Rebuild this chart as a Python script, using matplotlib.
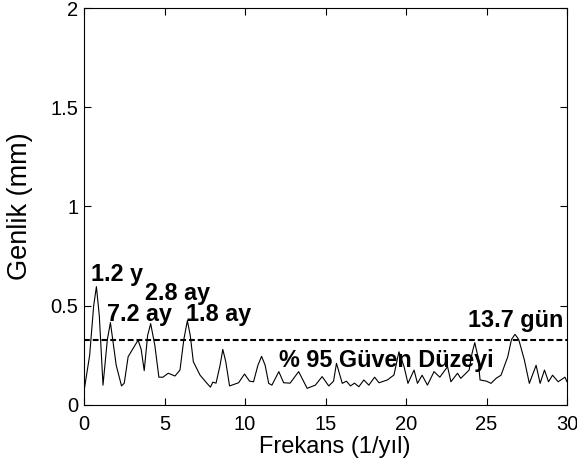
import matplotlib
matplotlib.use("Agg")
import matplotlib.pyplot as plt
import numpy as np

plt.rcParams['font.family'] = ['Liberation Sans', 'DejaVu Sans']

# amplitude spectrum
frek = [0.0, 0.35, 0.6, 0.77, 0.95, 1.18, 1.45, 1.64, 2.0, 2.33, 2.5, 2.74, 3.05, 3.36, 3.55, 3.74,
        3.95, 4.14, 4.4, 4.65, 4.9, 5.23, 5.65, 5.96, 6.2, 6.42, 6.6, 6.79, 7.21, 7.63, 7.85, 8.0,
        8.2, 8.45, 8.62, 8.8, 9.04, 9.6, 9.97, 10.28, 10.53, 10.8, 11.03, 11.25, 11.47, 11.67,
        12.1, 12.4, 12.8, 13.33, 13.86, 14.37, 14.79, 15.2, 15.5, 15.68, 16.04, 16.3, 16.55,
        16.8, 17.07, 17.38, 17.69, 18.05, 18.32, 18.84, 19.25, 19.56, 19.88, 20.12,
        20.5, 20.71, 21.0, 21.33, 21.74, 22.1, 22.37, 22.58, 22.79, 23.2, 23.4,
        23.92, 24.1, 24.27, 24.45, 24.6, 25.0, 25.28, 25.59, 25.9, 26.32, 26.55, 26.77, 27.0, 27.35,
        27.66, 28.08, 28.33, 28.6, 28.85, 29.1, 29.45, 29.87, 30.0]
genlik = [0.07, 0.25, 0.5, 0.596, 0.45, 0.10, 0.33, 0.415, 0.2, 0.096, 0.11, 0.243, 0.285, 0.327, 0.28, 0.173,
          0.35, 0.41, 0.3, 0.14, 0.14, 0.16, 0.146, 0.176, 0.33, 0.425, 0.35, 0.218, 0.15, 0.11, 0.09, 0.115,
          0.11, 0.2, 0.28, 0.22, 0.096, 0.112, 0.156, 0.12, 0.117, 0.2, 0.245, 0.2, 0.109, 0.10,
          0.168, 0.112, 0.11, 0.168, 0.084, 0.10, 0.143, 0.096, 0.12, 0.21, 0.109, 0.12, 0.096,
          0.11, 0.092, 0.126, 0.10, 0.14, 0.112, 0.126, 0.151, 0.268, 0.193, 0.109,
          0.176, 0.109, 0.15, 0.10, 0.168, 0.14, 0.17, 0.193, 0.117, 0.16, 0.134,
          0.176, 0.26, 0.314, 0.25, 0.126, 0.12, 0.109, 0.134, 0.15, 0.243, 0.33, 0.356, 0.33, 0.227,
          0.109, 0.2, 0.109, 0.176, 0.117, 0.15, 0.117, 0.14, 0.117]
guven = 0.327

etiketler = ['1.2 y', '7.2 ay', '2.8 ay', '1.8 ay', '13.7 gün', '% 95 Güven Düzeyi']
etiket_x = [0.46, 1.4, 3.79, 6.34, 23.83, 12.1]
etiket_y = [0.625, 0.423, 0.529, 0.425, 0.393, 0.193]

fig = plt.figure(figsize=(5.77, 4.63), dpi=100)
ax = fig.add_axes([0.1456, 0.1253, 0.8371, 0.8574])

ax.plot(frek, genlik, color='black', linewidth=0.8)
ax.axhline(guven, color='black', linestyle=(0, (2.8, 1.4)), linewidth=1.5)

for t, x, y in zip(etiketler, etiket_x, etiket_y):
    ax.text(x, y, t, fontsize=16.8, fontweight='bold', ha='left', va='baseline')

ax.set_xlim(0, 30)
ax.set_ylim(0, 2)
ax.set_xticks(np.arange(0, 31, 5))
ax.set_yticks([0, 0.5, 1, 1.5, 2])
ax.set_yticklabels(['0', '0.5', '1', '1.5', '2'])
ax.tick_params(direction='in', length=5, width=0.8, labelsize=14.5,
               top=True, right=True)
ax.tick_params(axis='x', pad=7)
ax.tick_params(axis='y', pad=4)
for s in ax.spines.values():
    s.set_linewidth(0.8)

fig.text(335 / 577, 1 - 447 / 463, 'Frekans (1/yıl)', fontsize=17, ha='center', va='center')
fig.text(20 / 577, 1 - 206 / 463, 'Genlik (mm)', fontsize=19.5, ha='center', va='center',
         rotation=90)

fig.savefig('out.png', dpi=100)
